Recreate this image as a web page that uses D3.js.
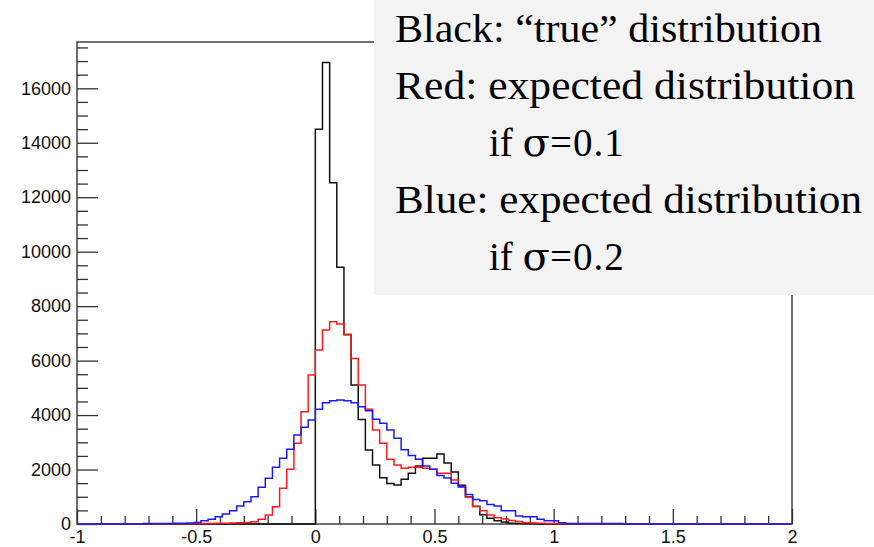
<!DOCTYPE html>
<html>
<head>
<meta charset="utf-8">
<script src="https://cdn.jsdelivr.net/npm/d3@7"></script>
<style>
  body { margin: 0; background: #fff; }
  .tick text { font-family: "Liberation Sans", Arial, sans-serif; font-size: 18px; fill: #111; }
  .axis path, .axis line { stroke: #333; stroke-width: 1.3; }
</style>
</head>
<body>
<div id="chart"></div>
<script>
// histogram bins: width 0.03, first bin starts at -0.75
var binStart = -0.75;
var binWidth = 0.03;

// "true" distribution (black)
var blackVals = [
  0, 0, 0, 0, 0, 0, 0, 0, 0, 0, 0, 0, 0, 0, 0, 0, 0, 0, 0, 0, 0, 0, 0, 0, 0,
  14500, 16950, 12530, 9430, 6950, 5100, 3840, 2720, 2170, 1700,
  1490, 1430, 1640, 1860, 2130, 2410, 2410, 2570, 2240, 1910,
  1420, 1000, 640, 340, 210, 120, 70, 30, 20, 10,
  6, 4, 3, 2, 1, 0, 0, 0, 0, 0, 0, 0, 0, 0, 0
];

// expected, sigma = 0.1 (red)
var redVals = [
  0, 8, 8, 10, 10, 10, 12, 12, 15, 15, 20, 25, 30,
  35, 45, 55, 86, 172, 330, 636, 1310, 2008, 2963, 4120, 5470,
  6390, 7120, 7430, 7340, 6970, 6080, 5100, 4210, 3452, 2963,
  2376, 2166, 2045, 2082, 2082, 2045, 2008, 1861, 1861, 1616,
  1380, 990, 650, 490, 330, 230, 180, 130, 90, 50,
  35, 25, 20, 15, 12, 10, 8, 8, 8, 8, 8, 8, 8, 0, 0
];

// expected, sigma = 0.2 (blue)
var blueVals = [
  0, 15, 18, 20, 22, 25, 30, 40, 55, 122, 172, 268, 367,
  489, 661, 819, 1003, 1347, 1678, 2082, 2412, 2743, 3268, 3551, 3819,
  4212, 4454, 4528, 4553, 4528, 4454, 4307, 4160, 3844, 3697,
  3452, 3147, 2730, 2520, 2380, 2130, 2008, 1780, 1690, 1494,
  1360, 1080, 900, 856, 720, 661, 489, 489, 294, 268,
  268, 172, 122, 122, 49, 15, 15, 15, 15, 15, 15, 15, 15, 0, 0
];

var yMajor = [0, 2000, 4000, 6000, 8000, 10000, 12000, 14000, 16000];
var xMajor = [-1, -0.5, 0, 0.5, 1, 1.5, 2];
var xLabels = ['-1', '-0.5', '0', '0.5', '1', '1.5', '2'];

var legendLines = [
  {text: 'Black: \u201ctrue\u201d distribution', indent: false, len: 427},
  {text: 'Red: expected distribution', indent: false, len: 460},
  {pre: 'if ', sym: '\u03c3', post: '=0.1', indent: true},
  {text: 'Blue: expected distribution', indent: false, len: 467},
  {pre: 'if ', sym: '\u03c3', post: '=0.2', indent: true}
];

var width = 874, height = 547;
var svg = d3.select('#chart').append('svg').attr('width', width).attr('height', height);

var x = d3.scaleLinear().domain([-1, 2]).range([77, 792]);
var y = d3.scaleLinear().domain([0, 17700]).range([524, 42]);

// minor + major ticks
var yMinor = d3.range(0, 17700, 500).filter(d => d % 2000 != 0);
var xMinor = d3.range(-10, 21).map(d => d / 10).filter(d => Math.abs(d * 2 - Math.round(d * 2)) > 1e-6);

svg.append('g').attr('class', 'axis').attr('transform', `translate(${x(-1)},0)`)
  .call(d3.axisLeft(y).tickValues(yMinor).tickSize(-11).tickFormat(''))
  .call(g => g.select('.domain').remove());
svg.append('g').attr('class', 'axis').attr('transform', `translate(${x(-1)},0)`)
  .call(d3.axisLeft(y).tickValues(yMajor).tickSize(-21).tickPadding(6).tickFormat(d3.format('d')))
  .call(g => g.select('.domain').remove());

svg.append('g').attr('class', 'axis').attr('transform', `translate(0,${y(0)})`)
  .call(d3.axisBottom(x).tickValues(xMinor).tickSize(-8).tickFormat(''))
  .call(g => g.select('.domain').remove());
svg.append('g').attr('class', 'axis').attr('transform', `translate(0,${y(0)})`)
  .call(d3.axisBottom(x).tickValues(xMajor).tickSize(-15).tickPadding(6).tickFormat((d, i) => xLabels[i]))
  .call(g => g.select('.domain').remove());

// frame
svg.append('rect').attr('x', x(-1)).attr('y', y(17700))
  .attr('width', x(2) - x(-1)).attr('height', y(0) - y(17700))
  .attr('fill', 'none').attr('stroke', '#333').attr('stroke-width', 1.4);

function histPoints(vals) {
  var pts = [{x: -1, v: 0}];
  vals.forEach((v, i) => pts.push({x: binStart + i * binWidth, v: v}));
  pts.push({x: binStart + vals.length * binWidth, v: 0});
  pts.push({x: 2, v: 0});
  return pts;
}

var line = d3.line().x(d => x(d.x)).y(d => y(d.v)).curve(d3.curveStepAfter);

[[blackVals, '#111'], [redVals, '#ff1a1a'], [blueVals, '#1a1aff']].forEach(s => {
  svg.append('path').datum(histPoints(s[0]))
    .attr('d', line).attr('fill', 'none').attr('stroke', s[1]).attr('stroke-width', 1.5);
});

// legend box
var legend = svg.append('g');
legend.append('rect').attr('x', 374).attr('y', 0).attr('width', 500).attr('height', 295).attr('fill', '#f3f3f3');

legendLines.forEach((l, i) => {
  var t = legend.append('text').attr('x', l.indent ? 489 : 395).attr('y', 41.7 + i * 57)
    .style('font-family', '"Liberation Serif", "Times New Roman", "DejaVu Serif", serif')
    .style('font-size', '39px').attr('fill', '#000');
  if (l.text) {
    t.text(l.text).attr('textLength', l.len).attr('lengthAdjust', 'spacingAndGlyphs');
  } else {
    t.append('tspan').text(l.pre);
    t.append('tspan').text(l.sym).style('font-family', '"DejaVu Serif", serif').style('font-size', '40px');
    t.append('tspan').text(l.post).attr('letter-spacing', 1);
  }
});
</script>
</body>
</html>
